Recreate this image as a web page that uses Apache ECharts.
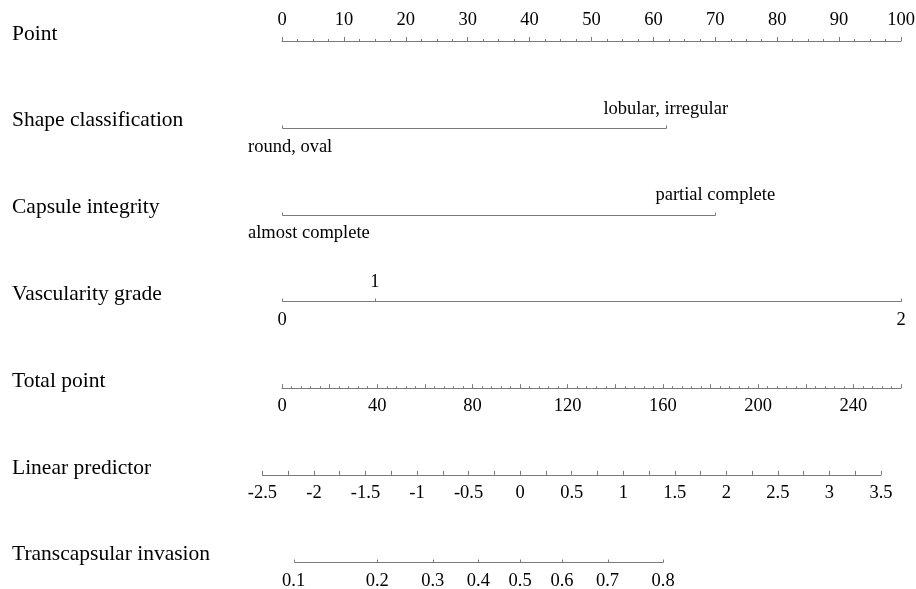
<!DOCTYPE html>
<html>
<head>
<meta charset="utf-8">
<title>Nomogram</title>
<script src="https://cdn.jsdelivr.net/npm/echarts@6/dist/echarts.min.js"></script>
<style>
    html, body { margin: 0; padding: 0; background: #fff; }
    #main { width: 916px; height: 589px; }
</style>
</head>
<body>
<div id="main"></div>
<script>
// row titles, top to bottom
var rowNames = ['Point', 'Shape classification', 'Capsule integrity', 'Vascularity grade',
    'Total point', 'Linear predictor', 'Transcapsular invasion'];

// points given to each level of the predictors
var shapeLevels = ['round, oval', 'lobular, irregular'];
var shapePoints = [0, 62];
var capsuleLevels = ['almost complete', 'partial complete'];
var capsulePoints = [0, 70];
var vascLevels = ['0', '1', '2'];
var vascPoints = [0, 15, 100];

// probability ticks, placed on the linear predictor scale (logit)
var probTicks = [0.1, 0.2, 0.3, 0.4, 0.5, 0.6, 0.7, 0.8];

var FONT = '"Liberation Serif", "Times New Roman", serif';
var LINE = '#7a7a7a';
var TEXT = '#000';
var TICK_FONT = 18.5;
var TITLE_FONT = 21.5;
var LABEL_MIN_X = 248;   // long labels at the left end are pushed right, like the R plot

var TOP = 41, BOTTOM = 27.3;
var rowGap = (589 - TOP - BOTTOM) / 6;

var measure = document.createElement('canvas').getContext('2d');
measure.font = TICK_FONT + 'px ' + FONT;
function textWidth(s) {
    return measure.measureText(s).width;
}

function logit(p) {
    return Math.log(p / (1 - p));
}

// one nomogram row: a line from the first to the last level, a small tick and a label for each level
function scaleRow(row, pts, labels, xIdx, yIdx, allBelow) {
    var data = pts.map(function (p, i) { return [p, row, i]; });
    return {
        type: 'custom',
        xAxisIndex: xIdx,
        yAxisIndex: yIdx,
        clip: false,
        silent: true,
        data: data,
        renderItem: function (params, api) {
            var i = api.value(2);
            var pos = api.coord([api.value(0), api.value(1)]);
            var x0 = Math.round(pos[0]) + 0.5;
            var y0 = Math.round(pos[1]) + 0.5;
            var children = [];
            if (i === 0) {
                var end = api.coord([pts[pts.length - 1], row]);
                children.push({
                    type: 'line',
                    shape: { x1: x0, y1: y0, x2: Math.round(end[0]) + 0.5, y2: y0 },
                    style: { stroke: LINE, lineWidth: 1 }
                });
            }
            children.push({
                type: 'line',
                shape: { x1: x0, y1: y0 - 3, x2: x0, y2: y0 },
                style: { stroke: LINE, lineWidth: 1 }
            });
            var above = !allBelow && i % 2 === 1;
            var text = labels[i];
            var w = textWidth(text);
            var left = Math.max(pos[0] - w / 2, LABEL_MIN_X);
            children.push({
                type: 'text',
                x: left,
                y: pos[1] + (above ? -19 : 19),
                style: {
                    text: text,
                    fill: TEXT,
                    font: TICK_FONT + 'px ' + FONT,
                    align: 'left',
                    verticalAlign: 'middle'
                }
            });
            return { type: 'group', children: children };
        }
    };
}

function hiddenY(grid, min, max, extra) {
    var ax = {
        gridIndex: grid, type: 'value', min: min, max: max, inverse: true,
        axisLine: { show: false }, axisTick: { show: false },
        splitLine: { show: false }, axisLabel: { show: false }
    };
    return Object.assign(ax, extra || {});
}

var tickLabel = { color: TEXT, fontFamily: FONT, fontSize: TICK_FONT, showMinLabel: true, showMaxLabel: true };

var chartDom = document.getElementById('main');
var myChart = echarts.init(chartDom);
var option = {
    backgroundColor: '#fff',
    animation: false,
    grid: [
        { left: 282, right: 15, top: TOP, bottom: BOTTOM, outerBoundsMode: 'none' },
        { left: 282, right: 15, top: TOP + 4 * rowGap, height: 1, outerBoundsMode: 'none' },
        { left: 262.4, right: 35, top: TOP + 5 * rowGap, height: rowGap, outerBoundsMode: 'none' }
    ],
    xAxis: [
        {
            // Point
            gridIndex: 0, type: 'value', position: 'top', min: 0, max: 100, interval: 10,
            axisLine: { lineStyle: { color: LINE } },
            axisTick: { length: 4, lineStyle: { color: LINE } },
            minorTick: { show: true, splitNumber: 4, length: 2, lineStyle: { color: LINE } },
            splitLine: { show: false },
            axisLabel: Object.assign({ margin: 11 }, tickLabel)
        },
        {
            // Total point
            gridIndex: 1, type: 'value', position: 'top', min: 0, max: 260, interval: 20,
            axisLine: { lineStyle: { color: LINE } },
            axisTick: { length: 4, lineStyle: { color: LINE } },
            minorTick: { show: true, splitNumber: 5, length: 2, lineStyle: { color: LINE } },
            splitLine: { show: false },
            axisLabel: Object.assign({
                inside: true, margin: 9,
                formatter: function (v) { return v % 40 === 0 ? String(v) : ''; }
            }, tickLabel)
        },
        {
            // Linear predictor
            gridIndex: 2, type: 'value', position: 'top', min: -2.5, max: 3.5, interval: 0.25,
            axisLine: { lineStyle: { color: LINE } },
            axisTick: { length: 4, lineStyle: { color: LINE } },
            splitLine: { show: false },
            axisLabel: Object.assign({
                inside: true, margin: 9,
                formatter: function (v) {
                    var h = Math.round(v * 2);
                    return Math.abs(v * 2 - h) < 1e-6 ? String(h / 2) : '';
                }
            }, tickLabel)
        }
    ],
    yAxis: [
        hiddenY(0, 0, 6, {
            interval: 1,
            axisLabel: {
                show: true, margin: 270, align: 'left', color: TEXT,
                fontFamily: FONT, fontSize: TITLE_FONT,
                verticalAlign: 'bottom', lineHeight: 14,
                formatter: function (v) { return rowNames[v] || ''; }
            }
        }),
        hiddenY(1, 0, 1),
        hiddenY(2, 5, 6)
    ],
    series: [
        scaleRow(1, shapePoints, shapeLevels, 0, 0, false),
        scaleRow(2, capsulePoints, capsuleLevels, 0, 0, false),
        scaleRow(3, vascPoints, vascLevels, 0, 0, false),
        scaleRow(6, probTicks.map(logit), probTicks.map(function (p) { return p.toFixed(1); }), 2, 2, true)
    ]
};
option && myChart.setOption(option);
</script>
</body>
</html>
